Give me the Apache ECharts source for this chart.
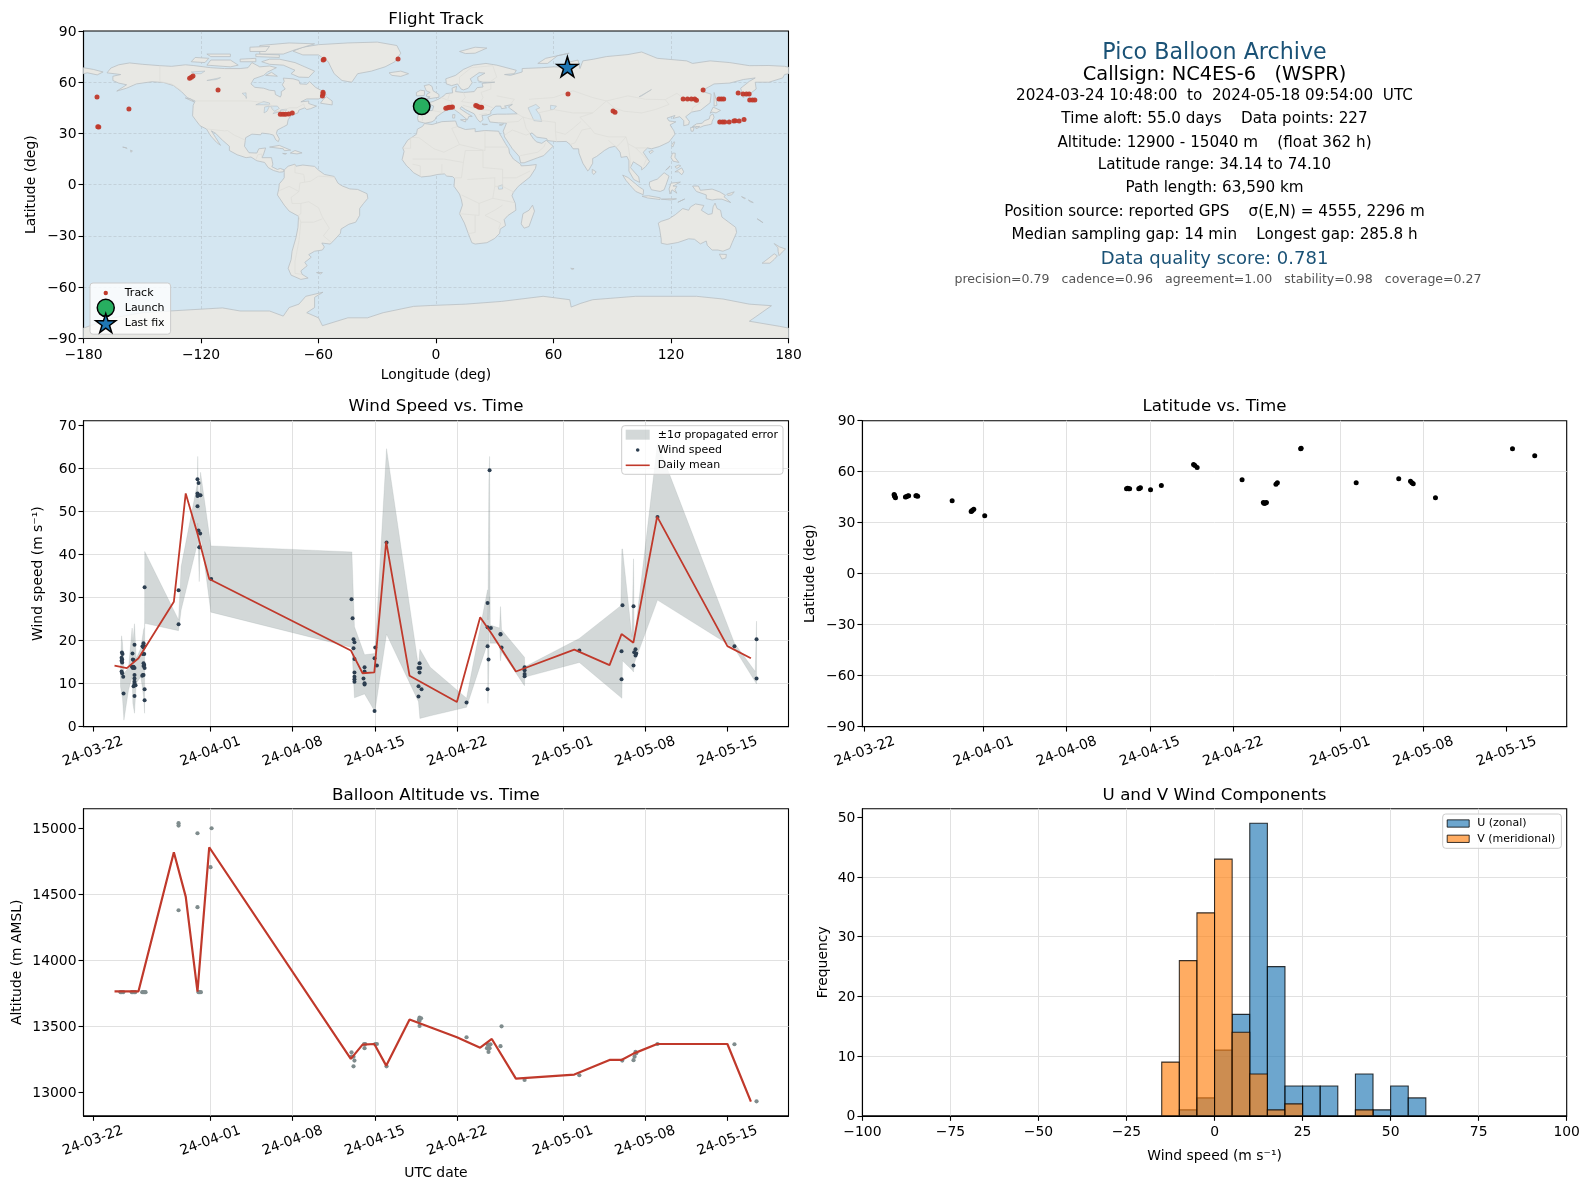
<!DOCTYPE html>
<html><head><meta charset="utf-8">
<style>html,body{margin:0;padding:0;background:#fff}#c{width:1589px;height:1189px}</style>
<script src="https://cdn.jsdelivr.net/npm/echarts@6/dist/echarts.min.js"></script>
</head><body><div id="c"></div>
<script>
// ---------- time axis (days after 2024-03-22) ----------
const timeTickDays = [0,10,17,24,31,40,47,54];
const timeTickLabels = ['24-03-22','24-04-01','24-04-08','24-04-15','24-04-22','24-05-01','24-05-08','24-05-15'];

// ---------- wind ----------
const windDays = [2.47,2.52,2.44,2.49,2.44,2.49,2.44,2.49,2.58,2.61,
 3.37,3.54,3.40,3.46,3.32,3.46,3.54,3.40,3.54,3.54,3.54,3.54,3.63,3.46,3.54,
 4.31,4.22,4.37,4.31,4.37,4.25,4.31,4.37,4.31,4.40,4.25,4.31,4.20,4.40,4.40,4.40,
 7.29,7.29,8.90,8.99,8.90,8.90,9.02,9.16,8.90,8.99,9.13,9.05,9.10,10.07,
 22.01,22.10,22.18,22.26,22.18,22.26,22.26,22.26,22.26,22.26,
 23.12,23.12,23.03,23.12,23.12,24.03,23.97,24.17,23.97,24.99,
 27.80,27.71,27.86,27.80,27.71,27.97,27.71,31.80,
 33.59,33.59,33.87,33.59,33.67,33.59,33.76,34.69,34.69,34.78,
 36.74,36.74,36.74,36.74,41.40,45.07,44.99,44.99,
 46.01,46.18,46.07,46.24,46.18,46.01,48.05,54.60,56.48,56.48];
const windSpeeds = [17.2,16.9,16.0,15.6,15.3,14.9,12.8,12.4,11.6,7.7,
 17.0,19.0,15.6,15.5,13.9,13.9,13.6,13.6,12.0,11.2,10.4,9.9,9.6,9.4,7.1,
 19.4,18.7,18.7,18.4,16.9,16.9,14.7,14.3,14.1,13.6,12.0,12.0,11.8,8.7,6.1,32.4,
 31.7,23.8,57.5,56.6,54.2,53.6,53.8,53.8,51.2,45.6,44.9,41.7,41.7,34.3,
 29.6,25.2,20.3,19.6,18.2,15.7,12.6,11.6,11.0,10.4,
 13.8,12.8,11.2,10.1,9.8,18.4,15.9,14.2,3.6,42.8,
 14.7,13.6,13.6,12.6,9.4,8.7,7.0,5.6,
 28.7,23.1,22.9,18.7,15.6,8.7,59.6,21.5,21.4,18.4,
 13.8,13.1,12.2,11.7,17.7,28.2,17.5,11.0,
 28.0,18.0,17.3,17.0,16.5,14.2,48.7,18.7,20.3,11.2];
const meanDays = [1.84,2.89,3.88,6.89,7.9,8.9,9.9,21.95,22.95,23.95,24.96,26.95,30.98,32.96,33.95,36,40.97,43.97,44.99,46,48.02,54,56];
const windMeans = [14.2,13.6,15.9,29.0,54.2,44.8,34.3,17.7,12.4,12.6,43.0,11.8,5.7,25.4,21.5,12.8,17.9,14.3,21.5,19.5,48.8,18.7,15.9];
const bandDays = [2.35,2.44,2.52,2.64,3.03,3.34,3.40,3.54,3.69,4.08,4.31,4.40,4.41,7.29,7.51,8.90,8.92,8.96,9.05,9.16,10.04,22.04,22.26,23.12,24.0,24.99,27.71,27.83,28.71,31.8,33.59,33.62,33.70,33.76,33.81,34.61,34.69,34.78,36.73,36.76,41.4,44.93,45.02,45.07,45.87,46.01,46.07,48.05,54.6,56.37,56.48];
const bandUpper = [13.9,21.1,19.4,12.4,13.6,22.9,19.4,23.9,15.9,18.2,22.5,23.2,40.7,24.8,37.2,56.6,62.8,55.0,50.4,59.1,42.0,40.6,23.2,16.7,17.0,64.6,13.9,18.0,13.8,6.6,31.8,24.8,57.0,62.8,23.6,22.9,27.9,22.5,16.1,13.9,20.5,28.1,41.3,41.3,20.9,39.0,20.1,65.9,19.4,12.8,24.5];
const bandLower = [9.3,7.7,6.6,1.5,8.5,11.6,5.4,3.1,10.1,11.6,7.0,3.1,24.0,22.3,27.1,42.6,47.3,42.6,33.7,44.8,26.6,18.4,6.7,7.6,3.5,21.5,5.8,1.9,2.5,4.5,19.4,5.4,14.7,30.2,19.4,19.4,15.3,17.4,9.5,11.5,14.9,6.8,6.6,15.3,13.2,12.7,14.7,29.4,18.2,10.4,9.9];

// ---------- altitude ----------
const altDays = [2.35,2.46,2.58,3.31,3.40,3.51,3.60,4.20,4.31,4.40,4.48,7.29,7.29,7.29,8.90,8.90,8.99,9.08,9.19,10.10,10.01,
 22.01,22.18,22.26,22.18,22.01,23.09,23.18,23.12,24.03,24.17,24.99,27.80,27.93,27.74,27.80,27.80,
 31.80,33.59,33.84,33.70,33.54,33.76,33.67,34.69,34.78,36.74,41.40,45.05,46.01,46.10,46.18,46.24,48.05,54.60,56.48];
const altValues = [13758,13758,13758,13758,13758,13758,13758,13758,13758,13758,13758,15038,15020,14379,14962,14402,13758,13758,13758,15000,14705,
 13303,13270,13240,13197,13270,13366,13366,13334,13366,13366,13197,13566,13561,13548,13541,13503,
 13417,13364,13364,13359,13334,13334,13306,13349,13500,13094,13129,13240,13243,13270,13306,13296,13366,13364,12932];
const altMeans = [13765,13765,13765,14818,14482,13763,14856,13253,13361,13366,13202,13551,13417,13338,13404,13104,13134,13245,13245,13293,13366,13366,12930];

// ---------- latitude ----------
const latDays = [2.48,2.50,2.52,2.55,2.59,3.43,3.50,3.62,3.70,4.31,4.38,4.46,7.36,8.96,9.00,9.07,9.18,10.1,22.03,22.12,22.20,22.29,23.06,23.13,23.2,24.05,24.96,27.67,27.78,27.97,31.75,33.54,33.60,33.65,33.72,33.8,34.6,34.72,36.68,36.72,41.35,44.93,45.92,46.04,46.15,48.02,54.5,56.37];
const latValues = [46.6,46.1,45.7,45.2,44.7,45.1,45.3,45.7,45.9,45.9,45.9,45.5,42.9,36.5,36.9,37.3,37.9,34.14,50.0,50.2,50.0,50.0,50.0,50.3,50.6,49.4,51.8,64.3,63.7,62.5,55.3,41.8,41.4,41.4,41.6,41.8,52.6,53.5,73.5,73.8,53.5,55.9,54.3,53.5,52.9,44.7,73.5,69.4];

// ---------- histogram (bin edge left, counts; bins are 5 m/s wide) ----------
const binLeft = [-15,-10,-5,0,5,10,15,20,25,30,35,40,45,50,55];
const binWidth = 5;
const uCounts = [0,1,3,11,17,49,25,5,5,5,0,7,1,5,3];
const vCounts = [9,26,34,43,14,7,1,2,0,0,0,1,0,0,0];

// ---------- flight track ----------
const trackLon = [-173.1,-156.8,-172.2,-172.7,-125.8,-124.9,-124.1,-111.3,-79.5,-78.1,-76.8,-75.2,-73.4,-58.0,-57.7,-57.7,-57.6,-57.2,-19.4,5.0,5.9,6.7,7.6,8.4,20.3,21.0,21.8,22.6,23.3,67.4,90.4,91.4,126.2,128.4,130.4,132.1,133,136.4,144.5,145.7,146.9,154.3,156.8,158.5,159.9,160.2,161.6,162.8,144.9,146.3,147.4,149.7,152.1,152.8,154.8,157.3];
const trackLat = [51.4,44.3,33.8,33.9,62.3,62.9,63.7,55.5,41.2,41.2,41.2,41.4,42.0,51.9,53.3,54.1,73.0,73.4,73.6,44.7,45.0,45.3,45.4,45.5,46.3,46.0,45.5,45.4,45.3,53.1,43.2,42.4,50.2,50.2,50.2,50.2,49.4,55.5,50.2,50.2,50.2,53.7,53.1,53.1,53.1,49.6,49.6,49.6,36.7,36.7,36.7,36.7,37.3,37.4,37.3,38.1];
const launchPoint = [-7.3,45.9];
const lastFixPoint = [67.1,69.1];

// ---------- coastlines, lakes, borders in lon/lat ----------
const landPolygons = [
[[-168,65.5],[-166,68.3],[-162,70.2],[-156.5,71.3],[-150,70.5],[-141,69.7],[-135,69.3],[-128,70.2],[-124,69.8],[-115,68.5],[-108,68],[-100,68],[-96,68.5],[-94,71.5],[-90,69],[-85,69.5],[-81.5,68.5],[-86,66],[-88,64],[-93,62],[-94.5,59],[-92.5,57],[-88,56.5],[-85,55.3],[-82.3,55],[-82,52.8],[-79.5,51.3],[-79,52.5],[-79,54.5],[-77,56],[-78.5,58.5],[-77.5,60.5],[-78,62.4],[-73,62],[-70,61],[-69.5,59],[-66,58.8],[-64.5,60.3],[-61.5,57],[-58,54.8],[-56,52.5],[-60,50.2],[-66,50.2],[-69,48.5],[-65,49],[-65,47.5],[-61,46],[-64,44.5],[-66,44],[-67,45],[-70,43.7],[-70.5,42],[-74,40.6],[-75.5,38],[-76,35],[-78,33.8],[-81,32],[-81.5,30],[-80,26.8],[-80.5,25.2],[-81.8,26.2],[-83,29],[-85,29.7],[-89,30.2],[-89.5,29.2],[-94,29.6],[-97.2,27.5],[-97.8,22.5],[-95.5,18.7],[-91.5,18.5],[-90.5,21],[-87,21.5],[-88,18],[-88.8,15.8],[-84,15.8],[-83.3,12],[-83.8,10.5],[-81,8.9],[-79.5,9.5],[-77.5,8.6],[-78,7.5],[-80,7.3],[-83,8.3],[-85.7,10],[-87.5,13],[-91.5,14],[-94.5,16.2],[-97,15.8],[-101.5,17.5],[-105.5,20],[-105.5,22.5],[-109,26],[-112.5,30],[-114.7,31.5],[-112.5,27.5],[-110,23],[-112,24.7],[-115,28.5],[-117.2,32.6],[-120.5,34.5],[-122.5,37.5],[-124.3,40.3],[-124,46.5],[-123,49],[-127,51],[-130,54.5],[-134,58],[-139,59.8],[-145,60.3],[-150,59.5],[-153,59],[-158,56.5],[-163,54.8],[-158,58.5],[-162,59.5],[-165,61],[-165,63.5],[-161,64.5]],
[[-180,68.5],[-175,67.5],[-170,66],[-173,64.3],[-178,65.5],[-180,65]],
[[-73,78.2],[-68,80.5],[-60,82],[-45,83],[-30,83.5],[-20,81.5],[-18,77],[-21,72],[-26,69],[-33,66.5],[-40,65],[-43,60],[-48,61],[-52,65],[-54,69.5],[-55,72],[-60,76],[-68,76]],
[[-80,73.5],[-72,71.5],[-67,69],[-62,66.5],[-65,62.8],[-70,63],[-74,65],[-72,67],[-78,70],[-85,70.5],[-89,72],[-85,73.5]],
[[-117,70],[-105,69],[-101,70],[-105,73],[-115,73]],[[-125,72],[-118,71.5],[-116,74],[-123,74.5]],
[[-90,76.5],[-78,76.5],[-72,79],[-62,82.5],[-75,83],[-90,81.5]],[[-92,75],[-80,74.5],[-80,76],[-92,76.5]],
[[-115,75],[-105,75],[-105,76.5],[-117,76.5]],[[-95,78],[-87,78],[-85,81],[-95,80.5]],[[-87,64],[-81,63.5],[-84,65.8]],[[-100,72],[-92,72],[-92,74],[-100,73.5]],
[[-59,47.7],[-53,46.7],[-53,49],[-56,51.5],[-57.5,50]],[[-128,50.8],[-123.5,48.4],[-125,50]],
[[-85,22],[-80,23],[-74.2,20.2],[-77.5,19.9],[-78,21]],[[-74.4,18.5],[-72,20],[-68.4,18.6],[-71,18]],[[-78.3,18.3],[-76.3,18.2],[-77,17.8]],[[-156,20.2],[-155,19.7],[-155.8,19]],[[-160,22],[-158,21.5],[-157.7,21.2],[-159,21.8]],
[[-24,65.5],[-18,66.5],[-14,65],[-18,63.4],[-22.5,64]],[[12,78],[20,80.5],[26,80],[20,77],[15,76.8]],[[52,71],[56,74],[68,77],[62,75.5],[57,71]],
[[-10,52],[-6,52.2],[-5.8,55],[-8,55.3],[-10,54]],[[-5.5,50],[1.5,51.2],[1.5,52.8],[-1.5,55],[-2,57.5],[-3.5,58.6],[-6,58],[-5,55],[-3,54],[-4.5,53.2],[-5,51.8],[-3,51.4]],
[[142,54],[143,50],[143.5,46.5],[142,46],[142,50]],[[130.9,34],[133,35.6],[136,36],[137,37.4],[139.5,38.5],[140,40.5],[141.4,41.4],[142,39.5],[141,37],[140.8,35.5],[139,35],[136.8,34.5],[135,33.6],[132.5,34.2]],
[[130,33.5],[131.8,33.5],[131.3,31.3],[130.3,31.3]],[[132.3,33.5],[134.5,34.2],[134,33.3],[132.8,32.8]],[[140,41.8],[141.5,45.4],[145.3,43.5],[143,42],[141,42.5]],
[[120.2,23],[121.5,25.2],[121.9,24.8],[120.9,22]],[[108.7,19.3],[110.5,20.1],[111,19.5],[109.5,18.2]],[[120,16],[120.8,18.5],[122.2,18.4],[122,16],[124,13],[121,13.8]],
[[122,7.5],[125.5,9.8],[126.5,7.5],[125.5,5.8],[123.8,7.5]],[[122,10.5],[124,11.5],[125,11],[123,9.5]],[[117.3,8.5],[119.5,11],[119,10]],
[[95.3,5.6],[98,4.2],[104,-1.5],[106,-3],[105.8,-5.9],[102,-4],[100,-1.5],[97,2.5]],[[105.2,-6.8],[108.5,-6.5],[114.5,-7.7],[114.4,-8.7],[108,-7.8]],
[[109,1.5],[111.3,2.6],[113,3.2],[116.5,7],[119,5],[117.8,1],[116.5,-3],[114.5,-4],[110,-3],[109,-0.5]],[[119.5,-5.5],[119,-2.5],[120,0.9],[124.8,1.5],[121,-0.8],[123,-1],[122,-3],[123,-5],[120.5,-3]],
[[131,-0.8],[134,-0.8],[135,-3.3],[141,-2.6],[145,-4.3],[147.8,-6.3],[147,-7],[150.5,-10.5],[146,-8.5],[143.5,-8.5],[141,-9],[138,-8.2],[138,-6],[133,-4],[132.2,-2.8]],
[[123.5,-10.3],[127,-8.4],[125,-9.5]],[[115,-8.5],[119,-8.3],[122.8,-8.3],[120,-9]],[[148.5,-5.6],[152.3,-4.2],[151,-6],[149,-6.3]],[[156,-7],[158,-8],[157.5,-8.2]],[[159.5,-9],[162,-10.5],[160.5,-10]],[[164,-20],[167,-22.3],[166,-21.5]],
[[172.7,-34.5],[175.5,-36.5],[178.5,-37.7],[176.8,-39.5],[175.2,-41.6],[174.7,-39],[174.6,-37]],[[172.7,-40.5],[174.3,-41.7],[172.7,-43.8],[170.5,-46],[166.5,-46],[170,-43]],
[[144.7,-40.7],[148.3,-40.9],[148,-43],[146,-43.6]],[[79.8,9],[81.8,7.5],[80.5,5.9],[79.8,7]],[[49.3,-12],[50.3,-15.5],[47.5,-24.5],[45,-25.5],[43.5,-23],[44.4,-17],[47.5,-15]],
[[-61,-51.5],[-58,-51.5],[-59,-52.3]],[[68.8,-49],[70.5,-49.2],[69.5,-49.7]],[[8.5,41],[9.7,41],[9.5,39],[8.5,39]],[[12.5,38],[15.5,38.2],[15,36.7]],[[23.5,35.5],[26.3,35.3],[24.5,35]],[[32.3,35],[34.5,35.6],[33.5,34.7]],
[[-77.5,8.6],[-75.5,10.8],[-72,12],[-71.5,10.8],[-68,11.5],[-62,10.7],[-60,8.5],[-57,6],[-52,4.8],[-50,0.8],[-48,-0.7],[-44,-2.5],[-40,-2.8],[-35.2,-5.3],[-34.8,-8],[-37,-11],[-39,-14],[-39,-18],[-41,-22],[-44.5,-23.2],[-48.5,-26],[-48.8,-28.5],[-52,-32.5],[-54,-34.8],[-58.3,-34.2],[-57,-36.5],[-58,-38.3],[-62,-39],[-65,-41],[-63.7,-42.5],[-67,-45.5],[-65.8,-47.5],[-69,-50.5],[-68.4,-52.5],[-65.3,-54.7],[-69,-55.5],[-74,-53],[-75.5,-49],[-74,-44],[-73.5,-39],[-71.5,-31],[-70.5,-25],[-70.2,-18.5],[-75,-15.5],[-77.5,-12],[-81,-6],[-80.3,-2.5],[-80,0.5],[-78.5,2.5],[-77.5,4],[-77.5,7]],
[[-5.9,35.8],[-2,35.2],[3,36.9],[10,37.3],[11,34],[15,32.3],[20,32.8],[20,31],[25,31.7],[32,31.3],[32.5,29.9],[34,27],[35.5,24],[37.2,21],[37.5,18.5],[39.5,15],[43.2,12],[43.5,11],[47,11.2],[51.2,11.8],[50.8,9.5],[48,4.5],[42,-1],[39.5,-4.5],[38.8,-6.5],[40.5,-11],[40.8,-15],[36.8,-18],[34.8,-20.5],[35.5,-24],[32.8,-26],[32.5,-28.5],[30,-31.5],[26,-34],[20,-34.8],[18.3,-34],[16.5,-28.7],[14.5,-22.5],[12,-17],[13.5,-12],[13,-9],[12,-5.5],[9.2,-1],[9.5,3.5],[8.5,4.7],[5.5,5],[4.3,6.3],[1,6],[-3,5],[-7.5,4.5],[-11.5,7],[-13.5,9.5],[-15,11],[-17.3,14.7],[-16.3,19.5],[-17,21.5],[-14.5,26],[-10,29.5],[-9.5,32.5],[-6.8,34.2]],
[[-5.6,36],[-9,37],[-9.4,38.8],[-8.8,43.2],[-1.8,43.4],[-1.2,46],[-4.5,47.8],[-1.5,48.7],[1.5,50.2],[4,52],[5,53.3],[8.5,53.8],[8.2,56.5],[10.5,57.6],[10,54.5],[14,54],[19.5,54.5],[21,56.8],[24,57.2],[23.5,59.3],[30,60],[24,60],[21.5,60.8],[21.3,63],[25,65.3],[22,65.6],[17.5,62],[18.5,59.7],[16.5,56.5],[14,55.5],[12.8,56],[11,59],[8,58],[5.3,59],[5,62],[10,64],[14,67.5],[19,70],[25.5,71],[31,70],[41,67],[40,65],[35,64.5],[38,64],[44,66],[44,68],[54,68.5],[60,69],[68,68.7],[67,71.5],[72.5,73],[73.5,68],[75,72.5],[80.5,73.5],[87,75],[98,76.2],[105,77.7],[113,74],[128,72.5],[131,71],[140,72.5],[150,71.5],[160,69.7],[170,69.8],[178,69.3],[180,68.8],[180,65],[178,64.5],[177,62.5],[170,60],[163,60],[163.5,56],[160,53],[156.8,51],[155.6,56.5],[160,60.5],[163,62.5],[157,61.6],[150,59.5],[142,59],[135.5,54.8],[140.5,53],[140,48],[135,43.5],[130.5,42.5],[127.5,39.8],[129.4,37],[129,35.2],[126.5,34.5],[126.5,37.5],[124.5,39.8],[121,38.8],[122,40.5],[118,39],[119,37.3],[122.5,36.8],[119.5,35],[121.5,31.5],[122,29.5],[119,25],[114,22.3],[110,21],[108,21.5],[105.8,19],[109,13.5],[107,10.5],[105,8.6],[105,10.3],[102,12.5],[100.8,13.4],[99.3,10],[103.5,4.5],[104,1.3],[101,3],[98.5,8],[98.5,14],[97.5,16.5],[94.5,16],[94,19],[91.5,22.5],[88.5,21.7],[86,20],[82,16.5],[80,15.3],[80,12.5],[78,8.5],[77.5,8],[75,12.5],[73,18.5],[72.8,21],[70,21],[68.5,23.5],[66.5,25.3],[61.5,25.2],[57,25.8],[56.5,27],[51.5,27.8],[49,30.3],[48,29.8],[50,26.5],[51.5,25],[54,24.2],[56.3,26],[59.8,22.5],[55,17],[52,15.8],[45,12.8],[43.2,12.8],[42.5,16.5],[39,21],[35,28],[34.8,29.5],[34.3,31.3],[36,36],[32,36.2],[27.5,36.7],[26.5,39.5],[29,41],[31.5,41.3],[36,41.3],[41.5,41.5],[38,44.5],[37,45.5],[39,47],[35,46],[36,45],[33.5,44.5],[33,46],[30.5,46],[28,43],[28,41.5],[26,40.8],[23.5,40.5],[24,38],[22.5,36.6],[21,38.5],[19.5,41.5],[15,44],[13,45.7],[12.3,44.5],[16,41.7],[18.5,40],[16.8,40],[16,38],[12,41.8],[9,44.3],[5,43.4],[3,42],[0,39.5],[-0.5,38],[-2,36.8]],
[[113.5,-22.5],[114.2,-26],[115,-32],[115,-34.3],[118,-35],[123.5,-33.9],[129,-31.7],[132,-32],[135,-34.7],[138,-33],[138.5,-35.5],[141,-38.3],[144,-38.3],[146.5,-39],[150,-37.4],[151.3,-33.8],[153.5,-28],[153,-25],[149.5,-22],[146,-19],[145.3,-15],[143.5,-14],[142.5,-10.8],[141.5,-13],[141,-17],[139,-17.5],[135.5,-15],[136.8,-12.2],[132.5,-11.3],[130,-13],[129,-15],[126,-14],[122.3,-17.5],[119,-20],[115,-21.5]],
[[-180,-90],[-180,-84],[-165,-78],[-150,-75],[-136,-74],[-109,-72.2],[-100,-74],[-85,-74],[-78,-77],[-75,-72],[-70,-70],[-66.5,-65.4],[-57.7,-63],[-62,-66],[-62,-72],[-66,-75],[-60,-78],[-58,-82.6],[-45,-78],[-35,-78],[-27,-75],[-11.4,-71.3],[-3,-70.8],[15,-70],[33.4,-68.4],[54.7,-65.4],[68.3,-67.4],[69,-71.7],[74,-69.5],[80,-67.4],[102,-65.4],[133,-65.4],[146.6,-67],[160,-70],[171.3,-70.9],[165,-76],[160,-80],[175.5,-83],[180,-84],[180,-90]]
];
const lakePolygons = [
[[47,45],[51,47],[53,45],[51,44],[53,41],[54,37],[50,37.5],[49,40]],[[-92,46.8],[-88,48.7],[-85,47.8],[-85,46.7],[-88,46.8]],[[-87.8,42],[-87.5,45.5],[-85,46],[-86.3,43]],[[-84.5,46],[-81,46],[-80,44.6],[-82.5,43],[-83.5,44]],[[-83.3,41.6],[-79,42.8],[-79,43],[-82.5,42.5]],[[-79.7,43.4],[-76.2,43.6],[-76.5,44.2],[-79,43.9]],[[-117,61],[-110,62.7],[-112,61.6]],[[-125,66],[-118,66.5],[-120,65],[-123,65]],[[-99,53.5],[-97,53.8],[-97,50.5],[-96.5,51]],[[58.5,46.5],[61.5,46],[60,44],[58.5,44]],[[103.7,51.5],[105,52],[110,55.7],[109,55]],[[31.7,-1],[34,0],[34,-2.5],[32,-2.7]]
];
const borderLines = [
[[-123,49],[-95,49],[-88.5,48.2],[-84,46.5],[-82.5,43],[-79,43],[-75,45],[-71,45],[-67.5,47.3],[-67,45]],[[-141,69.7],[-141,60.3],[-135,59],[-130,55]],[[-117,32.6],[-108,31.5],[-106.5,31.7],[-103,29],[-97.2,26]],[[-92,14.5],[-91,17.5],[-89,18],[-89,16]],
[[-51.5,4.3],[-60,5],[-64,2],[-69.5,1],[-70,-4],[-74,-7.5],[-73.5,-11],[-69,-11],[-65,-10],[-60,-13.5],[-58,-19],[-54.5,-25.5],[-57.5,-30],[-53.5,-33.8]],[[-70.3,-18],[-69,-22],[-70,-33],[-72,-45],[-72,-52],[-68.5,-52.5]],[[-69,-22],[-62.5,-22],[-58,-20]],[[-80,-3.5],[-75,-1],[-70,-4]],[[-72,12],[-72,7],[-67.5,6],[-67,1.5]],[[-69,-11],[-69,-17],[-70.3,-18]],
[[-8.7,27.5],[-1,21],[4,19],[12,23.5],[25,20],[25,31.7]],[[25,22],[36.8,22]],[[11,34],[8,33],[12,23.5]],[[-17,21.3],[-13,21.3],[-13,27.7],[-8.7,27.5]],[[-12,15],[-5,15],[4,15],[14,13],[15,20],[24,20],[24,10],[34,9],[34,4],[41,4],[48,8]],[[14,13],[13,4],[9.5,4]],[[16,3],[30,4],[30,-1],[29,-8],[22,-11],[13,-6]],[[34,4],[34,-1],[40,-4.5]],[[30,-1],[34,-1]],[[29,-8],[40,-10.5]],[[22,-11],[22,-18],[12,-17]],[[20,-18],[20,-28],[16.5,-28.7]],[[25,-18],[33,-22.5],[32,-26]],[[34,-12],[30,-15],[25,-18]],[[3,6],[3,12]],[[-8,4.5],[-8,11],[-12,12]],
[[-9,41.9],[-6.5,42],[-7,37.2]],[[-1.8,43.4],[3,42.4]],[[2.5,51],[6,49.5],[8,49],[7.5,44]],[[7,53.3],[6,50]],[[14,54],[15,51],[13,48.7],[17,48],[22.5,48],[24,51],[23,54],[28,56],[28,59.5]],[[22.5,48],[29,45]],[[13.7,46.5],[22,44],[28,43.5]],[[22,41],[26,41.7]],[[31,52],[40,50],[38,47]],[[12,59],[12,63],[18,68.5],[29,69.7]],[[29,69.7],[31,63],[28,60.5]],
[[47.5,50],[60,51],[70,55],[80,51],[87,49]],[[87,49],[98,52],[107,50],[117,49.8],[119,47],[112,44],[105,42],[96,43],[91,45],[87,49]],[[117,49.8],[123,53.5],[127,50],[135,48],[131,45],[130.5,42.5]],[[80,42],[73.5,39.5],[79,33],[81,30],[88,28],[97,28],[98,24],[102,21.5],[108,21.5]],[[52,42],[60,44],[70,42],[80,42],[87,49]],[[44.5,39.5],[48,38.5],[54,37.5],[61,36.5],[61,31],[61.5,25.2]],[[44.5,39.5],[46,33],[48,30]],[[61,31],[66,29.5],[70,33],[74,37]],[[68.5,23.5],[71,24.5],[74.5,32],[79,33]],[[88,26],[92,22]],[[97,28],[94,24],[92,22]],[[98,24],[99,16],[99.5,10]],[[102,21.5],[105,18],[107.5,15],[106,11]],[[35,29],[39,32],[46,29],[48,30]],[[43,17],[52,19],[55,22],[56,24.5]],[[36,36.5],[42,37],[44.5,39.5],[41.5,41.5]]
];

// ---------- text ----------
const infoLines = [
 ['Pico Balloon Archive',53,22.2,'#1a5276',1214.5],
 ['Callsign: NC4ES-6   (WSPR)',75,19.4,'#000',1214.5],
 ['2024-03-24 10:48:00  to  2024-05-18 09:54:00  UTC',96.3,15.2,'#000',1214.5],
 ['Time aloft: 55.0 days    Data points: 227',119.5,15.2,'#000',1214.5],
 ['Altitude: 12900 - 15040 m    (float 362 h)',142.8,15.2,'#000',1214.5],
 ['Latitude range: 34.14 to 74.10',165.3,15.2,'#000',1214.5],
 ['Path length: 63,590 km',188.3,15.2,'#000',1214.5],
 ['Position source: reported GPS    σ(E,N) = 4555, 2296 m',211.8,15.2,'#000',1214.5],
 ['Median sampling gap: 14 min    Longest gap: 285.8 h',234.8,15.2,'#000',1214.5],
 ['Data quality score: 0.781',259.2,18,'#1a5276',1214.5],
 ['precision=0.79   cadence=0.96   agreement=1.00   stability=0.98   coverage=0.27',279.4,12.57,'#555',1218]
];
const panelTitles = [['Flight Track',436,19.3],['Wind Speed vs. Time',436,406.8],['Latitude vs. Time',1214.5,406.8],['Balloon Altitude vs. Time',436,796.1],['U and V Wind Components',1214.5,796.1]];

// ---------- build ----------
const FONT = 'DejaVu Sans';
const TICK = {fontFamily:FONT,fontSize:13.9,color:'#000'};
const RED = '#c0392b';
const zip = (a,b)=>a.map((v,i)=>[v,b[i]]);
const minus = v => String(v).replace('-','\u2212');
const GRIDC = '#e1e1e1';
const frame = (l,t,w,h)=>({left:l,top:t,width:w,height:h,show:true,borderColor:'#000',borderWidth:1.1,backgroundColor:'transparent',containLabel:false});
const grids = [frame(83.5,31,705,307.3),frame(83.5,420.7,705,305.9),frame(862.4,420.7,704.3,305.9),frame(83.5,808.7,705,307.1),frame(862.4,808.7,704.3,307.1)];
grids[0].backgroundColor = '#d4e6f1';

function baseAxis(extra){
  return Object.assign({
    axisLine:{show:true,onZero:false,lineStyle:{color:'#000',width:1.1}},
    axisTick:{show:true,length:5,lineStyle:{color:'#000',width:1.1}},
    axisLabel:{...TICK,margin:7,hideOverlap:false},
    splitLine:{show:true,showMinLine:false,showMaxLine:false,lineStyle:{color:GRIDC,width:1}},
    nameTextStyle:{fontFamily:FONT,fontSize:13.9,color:'#000'},
    nameLocation:'middle'
  },extra);
}
function timeAxis(gridIndex,min,max,name){
  return baseAxis({type:'value',gridIndex,min,max,name,nameGap:48,
    axisTick:{show:true,length:5,customValues:timeTickDays,lineStyle:{color:'#000',width:1.1}},
    axisLabel:{...TICK,rotate:20,align:'center',verticalAlign:'middle',margin:25,customValues:timeTickDays,
      formatter:v=>timeTickLabels[timeTickDays.indexOf(v)]}
  });
}
function yAxis(gridIndex,min,max,ticks,name,nameGap,fmt){
  return baseAxis({type:'value',gridIndex,min,max,name,nameGap,nameRotate:90,
    axisTick:{show:true,length:5,customValues:ticks,lineStyle:{color:'#000',width:1.1}},
    axisLabel:{...TICK,margin:7,verticalAlign:'top',padding:[-6,0,0,0],customValues:ticks,formatter:fmt||(v=>String(v))}
  });
}
const mapDash = {color:'rgba(140,140,140,0.32)',width:0.7,type:[3,2]};
const lonTicks=[-180,-120,-60,0,60,120,180], latTicks=[-90,-60,-30,0,30,60,90];
const xAxes = [
  baseAxis({type:'value',gridIndex:0,min:-180,max:180,name:'Longitude (deg)',nameGap:30,
    axisTick:{show:true,length:5,customValues:lonTicks,lineStyle:{color:'#000',width:1.1}},
    axisLabel:{...TICK,margin:10.5,customValues:lonTicks,formatter:minus},splitLine:{show:true,showMinLine:false,showMaxLine:false,lineStyle:mapDash}}),
  timeAxis(1,-0.80,59.2,''),
  timeAxis(2,-0.19,59.06,''),
  timeAxis(3,-0.80,59.2,'UTC date'),
  baseAxis({type:'value',gridIndex:4,min:-100,max:100,name:'Wind speed (m s\u207B\u00B9)',nameGap:34,
    axisTick:{show:true,length:5,customValues:[-100,-75,-50,-25,0,25,50,75,100],lineStyle:{color:'#000',width:1.1}},
    axisLabel:{...TICK,margin:10,customValues:[-100,-75,-50,-25,0,25,50,75,100],formatter:minus}})
];
xAxes[3].nameGap = 51;
const yAxes = [
  yAxis(0,-90,90,latTicks,'Latitude (deg)',45,minus),
  yAxis(1,0,71.1,[0,10,20,30,40,50,60,70],'Wind speed (m s\u207B\u00B9)',38),
  yAxis(2,-90,90,latTicks,'Latitude (deg)',45,minus),
  yAxis(3,12822,15148,[13000,13500,14000,14500,15000],'Altitude (m AMSL)',59),
  yAxis(4,0,51.45,[0,10,20,30,40,50],'Frequency',32)
];
yAxes[0].splitLine = {show:true,showMinLine:false,showMaxLine:false,lineStyle:mapDash};

function polySeries(name,list,style,z,isLine){
  return {type:'custom',name,xAxisIndex:0,yAxisIndex:0,clip:true,z,silent:true,
    data:list.map((_,i)=>[i]),
    renderItem:(p,api)=>{
      const pts=list[api.value(0)].map(c=>api.coord(c));
      return {type:isLine?'polyline':'polygon',shape:{points:pts},style};
    }};
}
function histSeries(name,counts,fill,idx){
  return {type:'custom',name,xAxisIndex:4,yAxisIndex:4,z:3+idx,silent:true,clip:true,
    itemStyle:{color:fill},
    encode:{x:[0,1],y:2},
    data:binLeft.map((l,i)=>[l,l+binWidth,counts[i]]).filter(d=>d[2]>0),
    renderItem:(p,api)=>{
      const a=api.coord([api.value(0),api.value(2)]),b=api.coord([api.value(1),0]);
      return {type:'rect',shape:{x:a[0],y:a[1],width:b[0]-a[0],height:b[1]-a[1]},
        style:{fill,stroke:'rgba(0,0,0,0.78)',lineWidth:1.1}};
    }};
}
const bandFill='rgba(127,140,141,0.34)';
const series = [
  polySeries('Land',landPolygons,{fill:'#e8e8e4',stroke:'#b9bfc3',lineWidth:0.8},1),
  polySeries('Lakes',lakePolygons,{fill:'#d4e6f1',stroke:'#b9bfc3',lineWidth:0.6},2),
  polySeries('Borders',borderLines,{fill:'none',stroke:'#dcdcd8',lineWidth:0.7},2,true),
  {type:'scatter',name:'Track',xAxisIndex:0,yAxisIndex:0,symbolSize:5,z:5,data:zip(trackLon,trackLat),itemStyle:{color:RED,opacity:0.95},silent:true},
  {type:'scatter',name:'Launch',xAxisIndex:0,yAxisIndex:0,symbol:'circle',symbolSize:16.5,z:6,data:[launchPoint],itemStyle:{color:'#27ae60',borderColor:'#000',borderWidth:1.5,opacity:1},silent:true},
  {type:'scatter',name:'Last fix',xAxisIndex:0,yAxisIndex:0,symbol:'path://M50 0L61 35L98 35L68 57L79 91L50 70L21 91L32 57L2 35L39 35Z',symbolSize:[21,20],z:7,data:[lastFixPoint],itemStyle:{color:'#1f77b4',borderColor:'#000',borderWidth:1.5,opacity:1},silent:true},
  {type:'custom',name:'\u00B11\u03C3 propagated error',xAxisIndex:1,yAxisIndex:1,clip:true,z:2,silent:true,
    itemStyle:{color:bandFill},
    data:bandDays.map((d,i)=>[d,bandUpper[i],bandLower[i]]),
    renderItem:(p,api)=>{
      if(p.dataIndex!==0) return null;
      const up=bandDays.map((d,i)=>api.coord([d,bandUpper[i]]));
      const lo=bandDays.map((d,i)=>api.coord([d,bandLower[i]])).reverse();
      return {type:'polygon',shape:{points:up.concat(lo)},style:{fill:bandFill,stroke:'rgba(127,140,141,0.2)',lineWidth:0.8}};
    }},
  {type:'scatter',name:'Wind speed',xAxisIndex:1,yAxisIndex:1,symbolSize:4,z:3,data:zip(windDays,windSpeeds),itemStyle:{color:'#2c3e50',opacity:1},silent:true},
  {type:'line',name:'Daily mean',xAxisIndex:1,yAxisIndex:1,symbol:'none',z:4,data:zip(meanDays,windMeans),lineStyle:{color:RED,width:1.8},itemStyle:{color:RED},silent:true},
  {type:'scatter',name:'Latitude',xAxisIndex:2,yAxisIndex:2,symbolSize:5,z:3,data:zip(latDays,latValues),itemStyle:{color:'#000',opacity:1},silent:true},
  {type:'scatter',name:'Altitude',xAxisIndex:3,yAxisIndex:3,symbolSize:4.2,z:3,data:zip(altDays,altValues),itemStyle:{color:'#7f8c8d',opacity:1},silent:true},
  {type:'line',name:'Daily mean altitude',xAxisIndex:3,yAxisIndex:3,symbol:'none',z:4,data:zip(meanDays,altMeans),lineStyle:{color:RED,width:2.2},itemStyle:{color:RED},silent:true},
  histSeries('U (zonal)',uCounts,'rgba(31,119,180,0.65)',0),
  histSeries('V (meridional)',vCounts,'rgba(255,127,14,0.65)',1)
];
const legendBase = {orient:'vertical',selectedMode:false,backgroundColor:'rgba(255,255,255,0.8)',borderColor:'#ccc',borderWidth:1,borderRadius:3,
  textStyle:{fontFamily:FONT,fontSize:11,color:'#000',padding:[0,0,0,3]},z:20};
const legends = [
  {...legendBase,left:90,top:283,padding:[0,6,0,4],itemWidth:22,itemHeight:20,itemGap:-5.9,
   data:[
    {name:'Track',icon:'path://M0 0L0 0M22 20L22 20M8.8 10a2.2 2.2 0 1 0 4.4 0a2.2 2.2 0 1 0-4.4 0Z',itemStyle:{color:RED,borderWidth:0,opacity:1}},
    {name:'Launch',icon:'path://M0 0L0 0M22 20L22 20M2.5 10a8.5 8.5 0 1 0 17 0a8.5 8.5 0 1 0-17 0Z',itemStyle:{color:'#27ae60',borderColor:'#000',borderWidth:1.5,opacity:1}},
    {name:'Last fix',icon:'path://M0 0L0 0M22 20L22 20M11 0L13.3 7.4L21 7.4L14.8 12L17 19.1L11 14.7L5 19.1L7.2 12L1 7.4L8.7 7.4Z',itemStyle:{color:'#1f77b4',borderColor:'#000',borderWidth:1.5,opacity:1}}
   ]},
  {...legendBase,left:621.7,top:425.7,padding:[3.5,5,3.5,4],itemWidth:24,itemHeight:10,itemGap:4.3,
   data:[
    {name:'\u00B11\u03C3 propagated error',icon:'rect',itemStyle:{color:bandFill,borderWidth:0}},
    {name:'Wind speed',icon:'path://M0 0L0 0M24 10L24 10M10.2 5a1.8 1.8 0 1 0 3.6 0a1.8 1.8 0 1 0-3.6 0Z',itemStyle:{color:'#2c3e50',borderWidth:0,opacity:1}},
    {name:'Daily mean',icon:'path://M0 0L0 0M24 10L24 10M0 4.2L24 4.2L24 5.8L0 5.8Z',itemStyle:{color:RED,borderWidth:0}}
   ]},
  {...legendBase,left:1442.7,top:814,padding:[4,6,4,4],itemWidth:22,itemHeight:7.3,itemGap:4.3,
   data:[
    {name:'U (zonal)',icon:'rect',itemStyle:{color:'rgba(31,119,180,0.65)',borderColor:'rgba(0,0,0,0.78)',borderWidth:1}},
    {name:'V (meridional)',icon:'rect',itemStyle:{color:'rgba(255,127,14,0.65)',borderColor:'rgba(0,0,0,0.78)',borderWidth:1}}
   ]}
];
const titles = panelTitles.map(t=>({text:t[0],left:t[1],top:t[2],textAlign:'center',textVerticalAlign:'middle',padding:0,
  textStyle:{fontFamily:FONT,fontSize:16.7,fontWeight:'normal',color:'#000'}}))
 .concat(infoLines.map(t=>({text:t[0],left:t[4],top:t[1],textAlign:'center',textVerticalAlign:'middle',padding:0,
  textStyle:{fontFamily:FONT,fontSize:t[2],fontWeight:'normal',color:t[3]}})));

const chart = echarts.init(document.getElementById('c'),null,{renderer:'canvas',width:1589,height:1189});
chart.setOption({animation:false,backgroundColor:'#fff',title:titles,legend:legends,grid:grids,xAxis:xAxes,yAxis:yAxes,series,tooltip:{show:false}});
</script></body></html>
